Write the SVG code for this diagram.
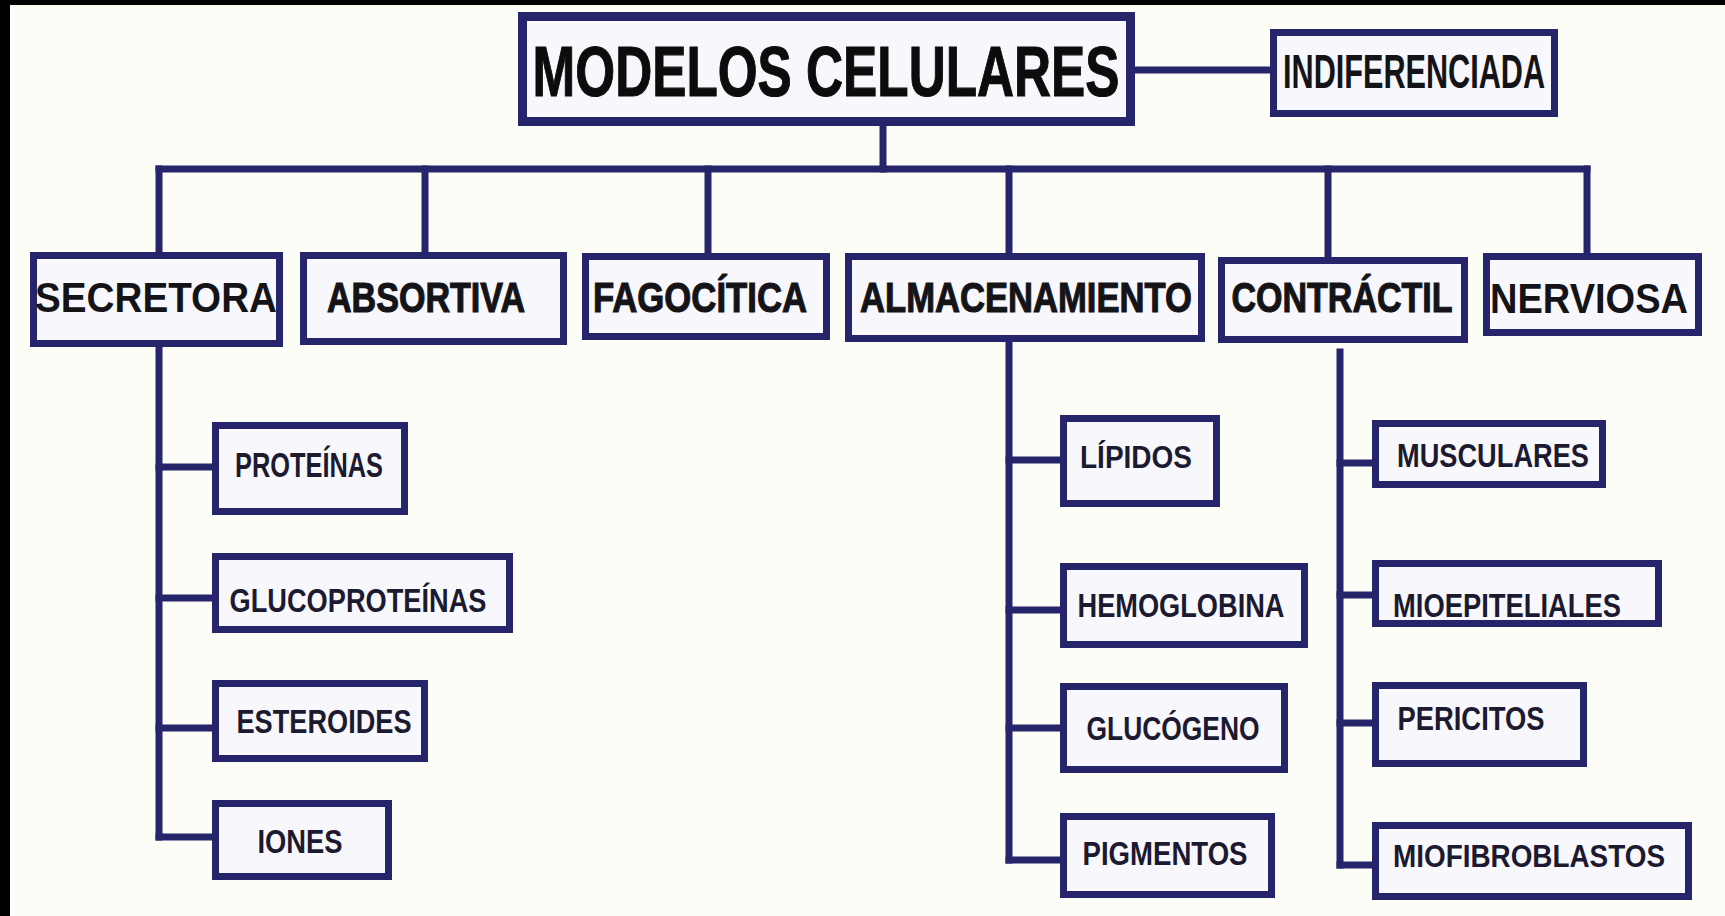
<svg xmlns="http://www.w3.org/2000/svg" width="1725" height="916" viewBox="0 0 1725 916">
<style>
.bg{fill:#fdfdf8}
.frame{fill:#000}
.box{fill:#f8f7fc;stroke:#26256b;stroke-width:7}
.main{fill:#f8f7fc;stroke:#26256b;stroke-width:9}
.ln{stroke:#26256b;stroke-width:7;fill:none;stroke-linecap:square}
text{font-family:"Liberation Sans",Arial,sans-serif;font-weight:bold;text-anchor:middle}
.t1{font-size:52px;fill:#0c0c0c;stroke:#0c0c0c;stroke-width:0.8}
.ti{font-size:31px;fill:#141418}
.t2{fill:#141418}
.hv{stroke:#141418;stroke-width:0.9}
.t3{font-size:27px;fill:#1c1a30}
</style>
<rect class="bg" x="0" y="0" width="1725" height="916"/>
<rect class="frame" x="0" y="0" width="1725" height="5"/>
<rect class="frame" x="0" y="0" width="10" height="916"/>

<g id="connectors">
<line class="ln" x1="1135" y1="70" x2="1270" y2="70"/>
<line class="ln" x1="883" y1="126" x2="883" y2="169"/>
<line class="ln" x1="159" y1="169" x2="1587" y2="169"/>
<line class="ln" x1="159" y1="169" x2="159" y2="252"/>
<line class="ln" x1="425" y1="169" x2="425" y2="252"/>
<line class="ln" x1="708" y1="169" x2="708" y2="253"/>
<line class="ln" x1="1009" y1="169" x2="1009" y2="253"/>
<line class="ln" x1="1328" y1="169" x2="1328" y2="257"/>
<line class="ln" x1="1587" y1="169" x2="1587" y2="253"/>
<line class="ln" x1="159" y1="347" x2="159" y2="837"/>
<line class="ln" x1="159" y1="467" x2="212" y2="467"/>
<line class="ln" x1="159" y1="598" x2="212" y2="598"/>
<line class="ln" x1="159" y1="728" x2="212" y2="728"/>
<line class="ln" x1="159" y1="837" x2="212" y2="837"/>
<line class="ln" x1="1009" y1="342" x2="1009" y2="860"/>
<line class="ln" x1="1009" y1="460" x2="1060" y2="460"/>
<line class="ln" x1="1009" y1="610" x2="1060" y2="610"/>
<line class="ln" x1="1009" y1="728" x2="1060" y2="728"/>
<line class="ln" x1="1009" y1="860" x2="1060" y2="860"/>
<line class="ln" x1="1340" y1="352" x2="1340" y2="865"/>
<line class="ln" x1="1340" y1="463" x2="1372" y2="463"/>
<line class="ln" x1="1340" y1="595" x2="1372" y2="595"/>
<line class="ln" x1="1340" y1="723" x2="1372" y2="723"/>
<line class="ln" x1="1340" y1="865" x2="1372" y2="865"/>
</g>

<g id="modelos">
<rect class="main" x="522.5" y="16.5" width="608" height="105"/>
<text class="t1" transform="translate(826,96) scale(1,1.35)" textLength="587" lengthAdjust="spacingAndGlyphs">MODELOS CELULARES</text>
</g>
<g id="indiferenciada">
<rect class="box" x="1273.5" y="32.5" width="281" height="81"/>
<text class="ti" transform="translate(1414,88) scale(1,1.55)" textLength="262" lengthAdjust="spacingAndGlyphs">INDIFERENCIADA</text>
</g>

<g id="secretora">
<rect class="box" x="33.5" y="255.5" width="246" height="88"/>
<text class="t2" font-size="38.5" transform="translate(156,312) scale(1,1.09)" textLength="242" lengthAdjust="spacingAndGlyphs">SECRETORA</text>
</g>
<g id="absortiva">
<rect class="box" x="303.5" y="255.5" width="260" height="86"/>
<text class="t2 hv" font-size="33.6" transform="translate(426,312) scale(1,1.25)" textLength="198" lengthAdjust="spacingAndGlyphs">ABSORTIVA</text>
</g>
<g id="fagocitica">
<rect class="box" x="585.5" y="256.5" width="241" height="80"/>
<text class="t2 hv" font-size="34.4" transform="translate(700,312) scale(1,1.22)" textLength="214" lengthAdjust="spacingAndGlyphs">FAGOCÍTICA</text>
</g>
<g id="almacenamiento">
<rect class="box" x="848.5" y="256.5" width="353" height="82"/>
<text class="t2 hv" font-size="34.5" transform="translate(1026,312) scale(1,1.22)" textLength="332" lengthAdjust="spacingAndGlyphs">ALMACENAMIENTO</text>
</g>
<g id="contractil">
<rect class="box" x="1221.5" y="260.5" width="243" height="79"/>
<text class="t2 hv" font-size="34" transform="translate(1342,312) scale(1,1.235)" textLength="221" lengthAdjust="spacingAndGlyphs">CONTRÁCTIL</text>
</g>
<g id="nerviosa">
<rect class="box" x="1486.5" y="256.5" width="212" height="76"/>
<text class="t2" font-size="37.9" transform="translate(1589,313) scale(1,1.11)" textLength="198" lengthAdjust="spacingAndGlyphs">NERVIOSA</text>
</g>

<g id="proteinas">
<rect class="box" x="215.5" y="425.5" width="189" height="86"/>
<text class="t3" font-size="25.4" transform="translate(309,477) scale(1,1.3)" textLength="148" lengthAdjust="spacingAndGlyphs">PROTEÍNAS</text>
</g>
<g id="glucoproteinas">
<rect class="box" x="215.5" y="556.5" width="294" height="73"/>
<text class="t3" transform="translate(358,612) scale(1,1.22)" textLength="257" lengthAdjust="spacingAndGlyphs">GLUCOPROTEÍNAS</text>
</g>
<g id="esteroides">
<rect class="box" x="215.5" y="683.5" width="209" height="75"/>
<text class="t3" transform="translate(324,733) scale(1,1.22)" textLength="175" lengthAdjust="spacingAndGlyphs">ESTEROIDES</text>
</g>
<g id="iones">
<rect class="box" x="215.5" y="803.5" width="173" height="73"/>
<text class="t3" transform="translate(300,853) scale(1,1.22)" textLength="85" lengthAdjust="spacingAndGlyphs">IONES</text>
</g>

<g id="lipidos">
<rect class="box" x="1063.5" y="418.5" width="153" height="85"/>
<text class="t3" font-size="28" transform="translate(1136,468) scale(1,1.18)" textLength="112" lengthAdjust="spacingAndGlyphs">LÍPIDOS</text>
</g>
<g id="hemoglobina">
<rect class="box" x="1063.5" y="566.5" width="241" height="78"/>
<text class="t3" transform="translate(1181,617) scale(1,1.22)" textLength="207" lengthAdjust="spacingAndGlyphs">HEMOGLOBINA</text>
</g>
<g id="glucogeno">
<rect class="box" x="1063.5" y="686.5" width="221" height="83"/>
<text class="t3" font-size="26.4" transform="translate(1173,740) scale(1,1.25)" textLength="173" lengthAdjust="spacingAndGlyphs">GLUCÓGENO</text>
</g>
<g id="pigmentos">
<rect class="box" x="1063.5" y="816.5" width="208" height="78"/>
<text class="t3" transform="translate(1165,865) scale(1,1.22)" textLength="165" lengthAdjust="spacingAndGlyphs">PIGMENTOS</text>
</g>

<g id="musculares">
<rect class="box" x="1375.5" y="423.5" width="227" height="61"/>
<text class="t3" transform="translate(1493,467) scale(1,1.22)" textLength="192" lengthAdjust="spacingAndGlyphs">MUSCULARES</text>
</g>
<g id="mioepiteliales">
<rect class="box" x="1375.5" y="563.5" width="283" height="60"/>
<text class="t3" transform="translate(1507,617) scale(1,1.22)" textLength="228" lengthAdjust="spacingAndGlyphs">MIOEPITELIALES</text>
</g>
<g id="pericitos">
<rect class="box" x="1375.5" y="685.5" width="208" height="78"/>
<text class="t3" transform="translate(1471,730) scale(1,1.22)" textLength="147" lengthAdjust="spacingAndGlyphs">PERICITOS</text>
</g>
<g id="miofibroblastos">
<rect class="box" x="1375.5" y="825.5" width="313" height="71"/>
<text class="t3" font-size="27.8" transform="translate(1529,867) scale(1,1.19)" textLength="272" lengthAdjust="spacingAndGlyphs">MIOFIBROBLASTOS</text>
</g>
</svg>
